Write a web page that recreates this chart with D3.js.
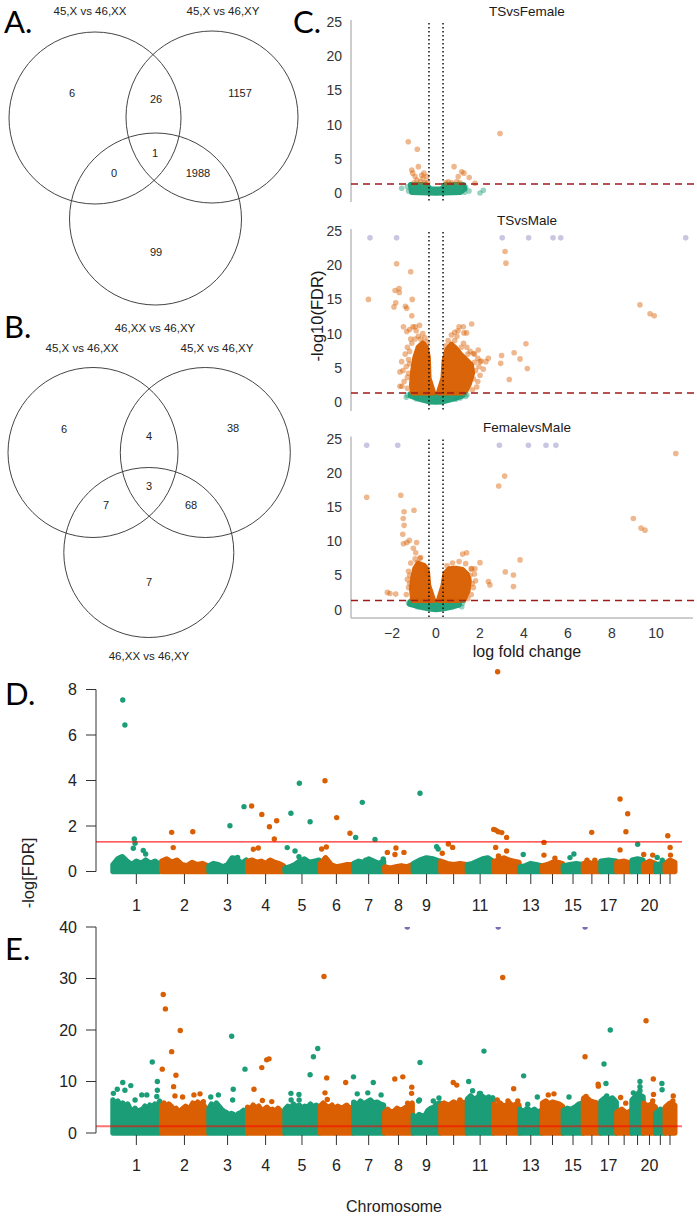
<!DOCTYPE html>
<html><head><meta charset="utf-8">
<script src="https://cdn.jsdelivr.net/npm/d3@7"></script>
<style>
body{margin:0;background:#fff}
svg text{font-family:"Liberation Sans",Arial,sans-serif}
</style></head>
<body><svg id="c" width="697" height="1217"></svg>
<script>
// ---------------- DATA ----------------
// Venn A
const vennATitles = ["45,X vs 46,XX", "45,X vs 46,XY", "46,XX vs 46,XY"];
// regions: only1, 1&2, only2, all, 1&3, 2&3, only3
const vennACounts = [6, 26, 1157, 1, 0, 1988, 99];
// Venn B
const vennBTitles = ["45,X vs 46,XX", "45,X vs 46,XY", "46,XX vs 46,XY"];
const vennBCounts = [6, 4, 38, 3, 7, 68, 7];

// Volcano (log fold change, -log10 FDR)
const volcanoTitles = ["TSvsFemale", "TSvsMale", "FemalevsMale"];
const volcanoYTicks = [0, 5, 10, 15, 20, 25];
const volcanoXTicks = [-2, 0, 2, 4, 6, 8, 10];
const fcCut = 0.32, fdrCut = 1.3;

const tsFemaleOrange = [[-1.26,7.5],[-0.85,6.4],[-0.8,3.85],[-1.1,3.36],[-1.06,2.9],[-0.95,2.4],[-0.65,2.6],[-0.55,2.9],[-0.42,2.4],[-0.59,2.1],[-0.86,1.9],[-0.72,1.65],[-1.0,1.5],[-0.5,1.5],[-0.38,1.55],[2.91,8.7],[0.82,3.85],[1.17,3.1],[1.27,2.9],[1.01,2.4],[1.51,2.25],[0.94,1.65],[0.71,1.5],[1.09,1.5],[1.77,1.42],[0.56,1.65],[0.45,1.5]];
const tsFemaleGreen = [[-1.56,0.7],[2.0,0.0],[2.15,0.4],[1.5,0.3],[-1.3,0.9],[1.35,0.8],[-1.25,0.3],[1.3,0.1]];
const tsFemaleGreenCloud = [[-1.15,1.2],[-0.45,1.2],[-0.25,0.55],[0.25,0.55],[0.45,1.2],[1.25,1.2],[1.3,0.6],[1.1,0.1],[0,0],[-1.1,0.1]];
const tsFemalePurple = [];
const tsFemaleOrangeCloudL = [];
const tsFemaleOrangeCloudR = [];

const tsMalePurple = [[-3.0,24],[-1.79,24],[3.01,24],[4.21,24],[5.32,24],[5.67,24],[11.35,24]];
const tsMaleOrange = [[-3.07,15.0],[-1.79,20.2],[-1.15,19.05],[-1.86,16.3],[-1.68,16.6],[-1.67,16.0],[-1.83,14.5],[-1.91,13.9],[-1.39,14.0],[-1.33,13.7],[-1.08,15.0],[-1.1,12.6],[3.14,22.0],[3.18,20.3],[9.27,14.2],[9.73,12.9],[9.92,12.6],[1.24,11.0],[1.62,11.4],[1.27,10.1],[1.39,10.1],[-1.48,11.0],[-0.95,11.0],[-1.33,10.3],[4.09,8.5],[3.55,7.2],[3.82,6.3],[2.98,6.8],[2.94,5.65],[4.15,4.9],[2.38,6.4],[2.27,5.9],[2.0,5.9],[1.92,7.6],[1.7,7.1],[-1.56,5.9],[-1.64,4.4],[3.33,3.3],[-1.64,2.3],
 [-0.8,9.6],[-0.9,10.4],[-1.05,11.0],[-0.75,11.2],[-0.6,10.0],[-0.5,9.4],[-1.15,9.2],[-1.3,8.0],[-1.4,7.0],[-1.25,6.2],[-1.35,5.2],[-1.5,4.6],[-1.3,3.6],[-1.45,3.0],[-1.3,2.0],[-1.55,2.3],[-0.95,9.2],[-1.2,10.6],[-1.1,8.6],[-1.2,7.4],[-1.2,5.6],[-1.25,4.2],[-0.4,8.8],[-0.7,9.2],
 [0.55,9.0],[0.7,9.8],[0.85,10.2],[1.0,10.4],[1.05,11.0],[0.95,9.6],[1.25,8.6],[1.4,8.0],[1.55,7.4],[1.75,7.0],[1.9,6.4],[2.05,6.0],[1.95,5.2],[2.15,4.8],[2.0,3.9],[1.9,3.0],[1.85,2.2],[1.65,1.8],[1.15,8.0],[1.45,7.0],[1.75,5.8],[1.8,4.6],[1.7,3.4],[0.45,8.2],[0.85,9.0]];
const tsMaleGreen = [[-1.3,1.0],[-1.35,0.7],[1.35,0.8],[1.4,1.05],[-0.9,0.45],[0.9,0.4],[1.1,0.6]];
const tsMaleGreenCloud = [[-1.15,1.2],[-1.15,0.9],[-0.7,0.4],[-0.3,0.05],[0,0],[0.3,0.05],[0.7,0.4],[1.2,0.9],[1.2,1.2],[0.3,1.2],[0,0.9],[-0.3,1.2]];
const tsMaleOrangeCloudL = [[-0.12,1.35],[-0.33,3.5],[-0.36,6.5],[-0.45,8.0],[-0.6,8.6],[-0.8,8.0],[-0.95,6.5],[-1.05,4.5],[-1.1,2.5],[-1.05,1.35]];
const tsMaleOrangeCloudR = [[0.12,1.35],[0.33,3.5],[0.38,6],[0.5,7.6],[0.7,8.4],[0.9,7.8],[1.1,7.0],[1.35,6.2],[1.6,5.4],[1.65,4.2],[1.5,2.6],[1.3,1.35]];

const femMalePurple = [[-3.15,24],[-1.74,24],[2.88,24],[4.2,24],[5.0,24],[5.45,24]];
const femMaleOrange = [[10.9,22.8],[-3.15,16.4],[-1.6,16.7],[2.85,18.05],[3.12,19.5],[-1.45,14.3],[-1.0,14.5],[-1.49,13.3],[-1.45,12.3],[-1.51,11.0],[8.97,13.3],[9.32,11.9],[9.5,11.6],[-1.48,9.6],[-1.33,9.8],[-1.21,10.1],[-0.88,9.8],[-1.03,8.95],[-0.92,8.3],[1.21,8.1],[1.39,8.3],[2.0,6.85],[3.82,7.25],[1.62,5.9],[1.77,5.95],[3.15,5.5],[3.52,5.05],[3.52,3.35],[2.38,4.1],[2.45,3.6],[-2.21,2.5],[-2.09,2.35],[-1.83,2.25],[-0.73,7.5],[-0.85,6.85],[-0.42,5.3],
 [-0.7,7.6],[-0.95,7.4],[-1.15,6.8],[-1.25,5.6],[-1.3,4.4],[-1.25,3.2],[-1.35,2.2],[-0.45,6.2],[0.5,6.4],[0.75,6.8],[1.05,7.0],[1.35,6.7],[1.6,6.0],[1.75,5.2],[1.8,4.2],[1.7,3.2],[1.6,2.2],[1.45,1.6],[-1.2,5.0],[-1.2,3.8],[1.55,5.0],[1.65,3.8]];
const femMaleGreen = [[-0.85,0.4],[1.17,0.4],[-1.25,1.0],[1.2,0.9]];
const femMaleGreenCloud = [[-1.15,1.2],[-1.2,0.8],[-0.8,0.45],[-0.3,0.1],[0,0],[0.3,0.1],[0.8,0.45],[1.05,0.7],[1.05,1.2],[0.3,1.2],[0,0.9],[-0.3,1.2]];
const femMaleOrangeCloudL = [[-0.12,1.35],[-0.34,3.5],[-0.4,5.6],[-0.55,6.4],[-0.8,6.7],[-0.95,6.0],[-1.05,4.6],[-1.1,3.0],[-1.05,1.35]];
const femMaleOrangeCloudR = [[0.12,1.35],[0.33,3.5],[0.42,5.3],[0.6,5.9],[0.9,6.0],[1.2,5.8],[1.4,5.2],[1.5,4.3],[1.45,2.8],[1.25,1.35]];

// Manhattan
const chromNames = ["1","2","3","4","5","6","7","8","9","10","11","12","13","14","15","16","17","18","19","20","21","22"];
const chromTickLabels = ["1","2","3","4","5","6","7","8","9","","11","","13","","15","","17","","","20","",""];
const chromLenMb = [249,243,198,191,181,171,159,146,141,136,135,134,115,107,103,90,81,78,59,63,48,51];
const dYTicks = [0,2,4,6,8];
const eYTicks = [0,10,20,30,40];

// D: dense band tops per chromosome (-log FDR)
const dBand = [
 [0.3,0.55,0.65,0.45,0.3,0.45,0.35,0.5,0.35,0.45,0.3],
 [0.45,0.55,0.4,0.5,0.3,0.25,0.4,0.3,0.35,0.25],
 [0.25,0.35,0.3,0.2,0.3,0.6,0.55,0.35,0.5],
 [0.45,0.5,0.4,0.45,0.35,0.5,0.4,0.35,0.25],
 [0.15,0.2,0.3,0.45,0.55,0.4,0.45,0.5],
 [0.35,0.6,0.3,0.2,0.25,0.3,0.3],
 [0.35,0.45,0.4,0.55,0.45,0.35,0.45],
 [0.2,0.15,0.2,0.25,0.2,0.3],
 [0.35,0.5,0.6,0.55,0.45],
 [0.45,0.35,0.3,0.35,0.3],
 [0.3,0.35,0.45,0.55,0.6,0.45],
 [0.45,0.5,0.6,0.5,0.45,0.4],
 [0.2,0.25,0.35,0.3,0.25],
 [0.25,0.3,0.4,0.4,0.35],
 [0.25,0.3,0.35,0.3],
 [0.35,0.4,0.3,0.4],
 [0.45,0.5,0.45],
 [0.4,0.45,0.35],
 [0.5,0.55,0.5],
 [0.3,0.45,0.35],
 [0.3,0.35],
 [0.35,0.5,0.4]];
// D: individual genes [chromosome, position Mb, -log FDR]
const dHits = [[1,55,7.54],[1,66,6.44],[1,114,1.43],[1,118,1.24],[1,109,1.02],[1,160,0.92],[1,172,0.77],[1,45,0.62],
 [2,56,1.72],[2,164,1.75],[2,64,1.05],
 [3,111,2.01],[3,183,2.85],[3,150,0.62],
 [4,24,2.88],[4,76,2.51],[4,115,1.97],[4,152,2.23],[4,140,1.43],[4,33,0.98],[4,58,1.03],
 [5,15,1.05],[5,34,2.56],[5,77,3.88],[5,132,2.19],[5,55,0.9],[5,75,0.65],
 [6,10,0.99],[6,27,3.99],[6,34,1.08],[6,29,0.58],[6,87,2.37],[6,155,1.68],
 [7,13,1.5],[7,47,3.04],[7,112,1.41],[7,64,0.5],[7,154,0.55],
 [8,16,0.84],[8,60,1.03],[8,55,0.75],[8,101,0.84],
 [9,37,3.44],[9,122,1.09],[9,130,0.99],[9,116,0.5],
 [10,10,0.8],[10,41,1.21],[10,63,1.06],
 [12,2,1.85],[12,12,1.82],[12,25,1.75],[12,43,1.71],[12,68,1.5],[12,22,8.78],[12,12,1.06],[12,68,0.9],[12,26,0.68],
 [13,19,0.75],[14,10,1.28],[14,10,0.72],[14,66,0.58],[15,36,0.61],[15,56,0.77],
 [16,44,1.72],[16,20,0.5],[16,60,0.5],
 [18,18,3.19],[18,57,2.54],[18,48,1.75],[18,18,0.95],
 [19,30,1.2],[20,2,0.75],[20,48,0.72],[21,8,0.62],[21,34,0.5],
 [22,14,1.57],[22,26,1.06],[22,28,0.72],[22,30,0.42]];

// E: dense band tops per chromosome
const eBand = [
 [6.4,5.6,6.2,5.2,5.8,5.0,5.6,4.6,4.2,4.8,4.0,4.4,4.6,5.2,4.6,5.4,5.0,5.6,5.2,6.2],
 [5.2,5.8,5.0,5.6,5.2,4.4,4.8,4.0,4.4,4.8,5.2,4.8,5.0,5.8,5.4,6.0,5.4,5.8,5.0,4.6],
 [4.8,5.6,5.0,5.8,5.2,4.6,4.2,4.0,3.4,3.8,3.6,3.2,3.8,4.0,4.4,4.2],
 [5.0,4.6,5.4,4.8,5.2,4.4,4.6,5.0,4.4,4.6,4.2,4.8,4.2,3.8],
 [4.6,5.2,4.8,5.6,5.0,5.4,4.8,5.2,5.0,5.6,5.0,5.4,5.0],
 [5.2,5.8,5.2,5.0,5.4,4.6,5.2,4.8,5.0,5.4,4.8,5.0],
 [6.0,5.4,6.2,5.6,6.0,6.4,5.8,6.0,5.6,5.4],
 [4.0,4.6,4.0,4.2,4.8,4.4,4.6,5.0,4.6,5.8],
 [3.4,3.0,3.6,3.2,3.4,4.4,4.8,5.0,5.6,5.8],
 [5.4,5.8,5.2,5.6,6.0,5.6,6.2,5.8,6.0],
 [6.6,7.2,6.6,6.8,7.4,7.0,6.6,6.2,6.8],
 [5.6,5.2,5.8,5.2,5.4,5.8,5.2,5.6,5.4],
 [4.6,4.0,4.8,4.2,4.6,4.0,4.4],
 [5.8,6.2,5.6,6.0,5.8,5.6,5.2],
 [4.4,4.8,4.6,5.0,5.6,5.8],
 [6.6,6.8,6.2,6.0,5.8,5.4],
 [6.2,6.8,6.4,6.8,6.0],
 [4.0,4.6,3.8,4.4],
 [6.4,7.6,7.0],
 [5.8,5.2,5.6,5.0],
 [3.8,4.6,4.2],
 [5.0,5.8,5.4]];
const eHits = [[1,7,7.7],[1,27,8.5],[1,55,9.8],[1,66,8.3],[1,96,9.2],[1,118,6.4],[1,152,7.4],[1,178,7.4],[1,206,13.8],[1,232,10.0],[1,232,8.3],[1,229,7.1],
 [2,13,26.9],[2,24,24.1],[2,100,19.9],[2,56,15.8],[2,8,12.4],[2,78,11.2],[2,66,9.0],[2,73,7.2],[2,112,7.0],[2,170,7.4],[2,201,7.6],[2,218,6.1],
 [3,13,7.0],[3,52,7.4],[3,120,18.8],[3,128,8.5],[3,125,6.4],[3,188,12.4],
 [4,36,8.5],[4,76,12.7],[4,101,14.2],[4,113,14.4],[4,79,6.3],[4,127,6.1],
 [5,34,7.7],[5,75,7.5],[5,132,11.3],[5,149,14.8],[5,171,16.4],[5,35,6.4],[5,76,6.4],
 [6,22,30.4],[6,36,10.7],[6,27,7.8],[6,39,6.5],[6,133,9.8],
 [7,2,10.9],[7,21,7.6],[7,75,7.8],[7,103,9.8],[7,143,7.4],
 [8,54,10.5],[8,95,10.9],[8,141,8.9],[8,140,7.7],[8,120,5.8],
 [9,37,13.7],[9,34,6.4],[9,30,6.2],[9,105,6.2],[9,134,6.8],
 [10,66,9.8],[10,84,9.3],[10,32,5.6],[10,100,6.4],
 [11,9,10.0],[11,29,8.2],[11,64,7.7],[11,69,7.7],[11,87,15.9],[11,111,7.0],
 [12,48,30.2],[12,20,6.4],[12,104,8.6],[12,75,6.2],[12,125,6.2],
 [13,21,11.1],[13,91,7.0],[13,42,5.6],
 [14,32,7.4],[14,61,7.6],
 [15,31,7.0],
 [16,10,14.8],[16,5,6.8],[16,15,7.1],[16,77,9.5],[16,78,9.1],
 [17,17,13.4],[17,49,20.0],[17,27,9.6],[17,31,7.2],
 [18,21,6.9],[18,47,5.8],
 [19,42,10.0],[19,42,9.0],[19,42,8.2],[19,8,7.8],
 [20,14,21.8],[20,51,10.5],[20,52,7.5],[20,48,6.2],
 [21,32,9.6],[21,33,8.4],
 [22,42,7.2],[22,40,6.2]];
// E: genes beyond the axis limit (drawn at the cap)
const eCapped = [[8,118,40],[12,25,40],[16,10,40]];

// ---------------- DRAW ----------------
const GREEN = "#1b9e77", ORANGE = "#d95f02", PURPLE = "#7570b3";
const svg = d3.select("#c");
const fmt = d3.format("d");

function letter(t, x, y) {
  svg.append("text").attr("x", x).attr("y", y).text(t)
    .style("font-family", "Lato, 'Open Sans', sans-serif").style("font-size", "31px").attr("fill", "#000");
}

// ---- Venn diagrams ----
function venn(titles, counts, L) {
  const g = svg.append("g");
  g.selectAll("circle").data(L.circles).join("circle")
    .attr("cx", d => d[0]).attr("cy", d => d[1]).attr("r", L.r)
    .attr("fill", "none").attr("stroke", "#444").attr("stroke-width", 1);
  g.selectAll("text.t").data(titles).join("text").attr("class", "t")
    .attr("x", (d, i) => L.titles[i][0]).attr("y", (d, i) => L.titles[i][1])
    .attr("dy", "0.35em").attr("text-anchor", "middle").style("font-size", "11.5px").attr("fill", "#222").text(d => d);
  g.selectAll("text.n").data(counts).join("text").attr("class", "n")
    .attr("x", (d, i) => L.counts[i][0]).attr("y", (d, i) => L.counts[i][1])
    .attr("dy", "0.35em").attr("text-anchor", "middle").style("font-size", "11px").attr("fill", "#222").text(d => d);
}
venn(vennATitles, vennACounts, {
  circles: [[95,118],[212,117],[155.5,219]], r: 86,
  titles: [[90,11],[223,11],[155,328]],
  counts: [[72,93],[156,99],[240,93],[155,153],[114,173],[198,173],[156,252]]
});
venn(vennBTitles, vennBCounts, {
  circles: [[93,452.5],[205.3,452.5],[148.8,552.5]], r: 85,
  titles: [[82,348],[217,348],[149,656]],
  counts: [[64,429],[149,436],[233,428],[149,486],[106,505],[191,505],[149,582]]
});
letter("A.", 4, 33);
letter("B.", 4, 338);
letter("C.", 293, 33);
letter("D.", 5, 705);
letter("E.", 5, 960);

// ---- Volcano plots ----
const xV = d3.scaleLinear().domain([-2, 10]).range([392, 656]);
const volcanoLayout = [{y0: 193, y25: 22}, {y0: 402, y25: 231}, {y0: 609.5, y25: 438.5}];
const volcanoData = [
  {orange: tsFemaleOrange, green: tsFemaleGreen, purple: tsFemalePurple, gCloud: tsFemaleGreenCloud, oClouds: [tsFemaleOrangeCloudL, tsFemaleOrangeCloudR]},
  {orange: tsMaleOrange, green: tsMaleGreen, purple: tsMalePurple, gCloud: tsMaleGreenCloud, oClouds: [tsMaleOrangeCloudL, tsMaleOrangeCloudR]},
  {orange: femMaleOrange, green: femMaleGreen, purple: femMalePurple, gCloud: femMaleGreenCloud, oClouds: [femMaleOrangeCloudL, femMaleOrangeCloudR]}
];
const axisX = 351, rV = 2.8;
volcanoTitles.forEach((title, k) => {
  const L = volcanoLayout[k], D = volcanoData[k];
  const y = d3.scaleLinear().domain([0, 25]).range([L.y0, L.y25]);
  const g = svg.append("g");
  const bottom = (k === 2) ? 618 : L.y0 + 9;
  g.append("line").attr("x1", axisX).attr("x2", axisX).attr("y1", L.y25 - 2).attr("y2", bottom)
    .attr("stroke", "#bdbdbd").attr("stroke-width", 1.5);
  g.selectAll("text.yt").data(volcanoYTicks).join("text").attr("class", "yt")
    .attr("x", 342).attr("y", d => y(d)).attr("dy", "0.36em").attr("text-anchor", "end")
    .style("font-size", "14px").attr("fill", "#333").text(d => d);
  g.append("text").attr("x", 527).attr("y", L.y25 - 11).attr("dy", "0.35em").attr("text-anchor", "middle")
    .style("font-size", "13.5px").attr("fill", "#1a1a1a").text(title);
  const line = d3.line().x(d => xV(d[0])).y(d => y(d[1])).curve(d3.curveLinearClosed);
  if (D.gCloud.length) g.append("path").attr("d", line(D.gCloud)).attr("fill", GREEN).attr("stroke", GREEN)
    .attr("stroke-width", rV * 2).attr("stroke-linejoin", "round").attr("opacity", 0.95);
  D.oClouds.forEach(c => { if (c.length) g.append("path").attr("d", line(c)).attr("fill", ORANGE).attr("stroke", ORANGE)
    .attr("stroke-width", rV * 2).attr("stroke-linejoin", "round").attr("opacity", 0.97); });
  g.selectAll("circle.g").data(D.green).join("circle").attr("class", "g")
    .attr("cx", d => xV(d[0])).attr("cy", d => y(d[1])).attr("r", rV).attr("fill", GREEN).attr("opacity", 0.45);
  g.selectAll("circle.o").data(D.orange).join("circle").attr("class", "o")
    .attr("cx", d => xV(d[0])).attr("cy", d => y(d[1])).attr("r", rV).attr("fill", ORANGE).attr("opacity", 0.45);
  g.selectAll("circle.p").data(D.purple).join("circle").attr("class", "p")
    .attr("cx", d => xV(d[0])).attr("cy", d => y(d[1])).attr("r", rV).attr("fill", PURPLE).attr("opacity", 0.4);
  g.selectAll("line.fc").data([-fcCut, fcCut]).join("line").attr("class", "fc")
    .attr("x1", d => xV(d)).attr("x2", d => xV(d)).attr("y1", L.y25 + 1).attr("y2", L.y0 + 10)
    .attr("stroke", "#000").attr("stroke-width", 1.4).attr("stroke-dasharray", "1.4,2.6");
  g.append("line").attr("x1", axisX).attr("x2", 697).attr("y1", y(fdrCut)).attr("y2", y(fdrCut))
    .attr("stroke", "#a11a1a").attr("stroke-width", 1.5).attr("stroke-dasharray", "7,5");
  if (k === 2) {
    g.append("line").attr("x1", axisX).attr("x2", 693).attr("y1", 618).attr("y2", 618)
      .attr("stroke", "#bdbdbd").attr("stroke-width", 1.5);
    g.selectAll("text.xt").data(volcanoXTicks).join("text").attr("class", "xt")
      .attr("x", d => xV(d)).attr("y", 633).attr("dy", "0.36em").attr("text-anchor", "middle")
      .style("font-size", "14px").attr("fill", "#333").text(d => fmt(d));
    g.append("text").attr("x", 527).attr("y", 651).attr("dy", "0.35em").attr("text-anchor", "middle")
      .style("font-size", "16px").attr("fill", "#1a1a1a").text("log fold change");
  }
});
svg.append("text").attr("transform", "translate(317,316) rotate(-90)").attr("text-anchor", "middle")
  .attr("dy", "0.35em").style("font-size", "16.5px").attr("fill", "#1a1a1a").text("-log10(FDR)");

// ---- Manhattan plots ----
const chromStart = d3.cumsum([0].concat(chromLenMb.slice(0, -1)));
const genomeLen = d3.sum(chromLenMb);
const xM = d3.scaleLinear().domain([0, genomeLen]).range([112, 675]);
const chromColor = i => (i % 2 === 0 ? GREEN : ORANGE);
const rM = 2.7;
svg.append("defs").append("clipPath").attr("id", "clipE").append("rect")
  .attr("x", 0).attr("y", 927).attr("width", 697).attr("height", 290);

function manhattan(opt) {
  const y = d3.scaleLinear().domain(opt.domain).range(opt.range);
  const g = svg.append("g");
  const pg = g.append("g");
  if (opt.clip) pg.attr("clip-path", "url(#clipE)");
  const area = d3.area().x(d => xM(d[0])).y0(y(0)).y1(d => y(d[1]));
  opt.band.forEach((vals, i) => {
    const pos = d3.scaleLinear().domain([0, vals.length - 1])
      .range([chromStart[i] + chromLenMb[i] * 0.02, chromStart[i] + chromLenMb[i] * 0.98]);
    const pts = vals.map((v, j) => [pos(j), v]);
    pg.append("path").attr("d", area(pts)).attr("fill", chromColor(i)).attr("stroke", chromColor(i))
      .attr("stroke-width", rM * 2).attr("stroke-linejoin", "round");
  });
  pg.selectAll("circle.h").data(opt.hits).join("circle").attr("class", "h")
    .attr("cx", d => xM(chromStart[d[0] - 1] + d[1])).attr("cy", d => y(d[2])).attr("r", rM)
    .attr("fill", d => chromColor(d[0] - 1));
  pg.selectAll("circle.c").data(opt.capped).join("circle").attr("class", "c")
    .attr("cx", d => xM(chromStart[d[0] - 1] + d[1])).attr("cy", d => y(d[2])).attr("r", rM)
    .attr("fill", PURPLE);
  g.append("line").attr("x1", 96).attr("x2", 682).attr("y1", y(fdrCut)).attr("y2", y(fdrCut))
    .attr("stroke", "#ff0000").attr("stroke-width", opt.redW).attr("opacity", opt.redOp);
  // y axis
  const yMax = opt.yTicks[opt.yTicks.length - 1];
  g.append("line").attr("x1", 96).attr("x2", 96).attr("y1", y(yMax)).attr("y2", y(0)).attr("stroke", "#333");
  g.selectAll("line.yt").data(opt.yTicks).join("line").attr("class", "yt")
    .attr("x1", 86).attr("x2", 96).attr("y1", d => y(d)).attr("y2", d => y(d)).attr("stroke", "#333");
  g.selectAll("text.yt").data(opt.yTicks).join("text").attr("class", "yt")
    .attr("x", 77).attr("y", d => y(d)).attr("dy", "0.36em").attr("text-anchor", "end")
    .style("font-size", "16px").attr("fill", "#222").text(d => d);
  // x axis ticks
  const mids = chromLenMb.map((l, i) => chromStart[i] + l / 2);
  g.selectAll("line.xt").data(mids).join("line").attr("class", "xt")
    .attr("x1", d => xM(d)).attr("x2", d => xM(d)).attr("y1", opt.tickY).attr("y2", opt.tickY + 10).attr("stroke", "#333");
  g.selectAll("text.xt").data(chromTickLabels).join("text").attr("class", "xt")
    .attr("x", (d, i) => xM(mids[i])).attr("y", opt.labelY).attr("dy", "0.36em").attr("text-anchor", "middle")
    .style("font-size", "16px").attr("fill", "#222").text(d => d);
}
manhattan({domain: [0, 8], range: [871.5, 689.5], band: dBand, hits: dHits, capped: [], yTicks: dYTicks,
  tickY: 874, labelY: 905, redW: 1.2, redOp: 0.85, clip: false});
manhattan({domain: [0, 40], range: [1133, 927], band: eBand, hits: eHits, capped: eCapped, yTicks: eYTicks,
  tickY: 1135, labelY: 1165, redW: 2, redOp: 0.55, clip: true});
svg.append("text").attr("transform", "translate(28,873) rotate(-90)").attr("text-anchor", "middle")
  .attr("dy", "0.35em").style("font-size", "16.5px").attr("fill", "#222").text("-log[FDR]");
svg.append("text").attr("x", 394).attr("y", 1206).attr("dy", "0.35em").attr("text-anchor", "middle")
  .style("font-size", "16px").attr("fill", "#222").text("Chromosome");
</script></body></html>
